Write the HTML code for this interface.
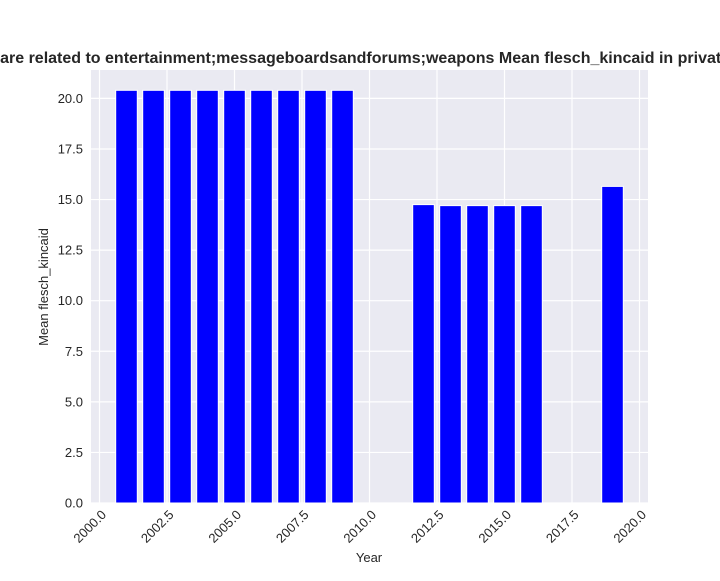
<!DOCTYPE html>
<html><head><meta charset="utf-8"><style>
body{margin:0;background:#fff;}
svg text{font-family:"Liberation Sans",Arial,sans-serif;}
</style></head><body>
<svg width="720" height="576" xmlns="http://www.w3.org/2000/svg">
<g id="plot"></g>
</svg>
<script>
const years=[2001,2002,2003,2004,2005,2006,2007,2008,2009,2012,2013,2014,2015,2016,2019];
const values=[20.4,20.4,20.4,20.4,20.4,20.4,20.4,20.4,20.4,14.75,14.7,14.7,14.7,14.7,15.65];
const xTicks=[2000,2002.5,2005,2007.5,2010,2012.5,2015,2017.5,2020];
const yTicks=[0,2.5,5,7.5,10,12.5,15,17.5,20];

const L=91,R=648,T=70,B=503;
const x=v=>99.5+(v-2000)*27;
const y=v=>B-v*20.23;
const NS="http://www.w3.org/2000/svg";
const g=document.getElementById('plot');
function mk(tag,attrs,parent){const e=document.createElementNS(NS,tag);for(const k in attrs)e.setAttribute(k,attrs[k]);(parent||g).appendChild(e);return e;}
const bg=mk('rect',{x:L,y:T,width:R-L,height:B-T,fill:'#eaeaf2'});


xTicks.forEach(t=>{
  const ln=mk('line',{x1:x(t),x2:x(t),y1:T,y2:B,stroke:'#fff','stroke-width':1.2});
  
  
  const ax=x(t)+4, ay=B+9;
  const tx=mk('text',{x:ax,y:ay+5,'font-size':13,fill:'#262626','text-anchor':'end',transform:`rotate(-45 ${ax} ${ay})`});
  tx.textContent=t.toFixed(1);
  
  
});
yTicks.forEach(t=>{
  const ln=mk('line',{x1:L,x2:R,y1:y(t),y2:y(t),stroke:'#fff','stroke-width':1.2});
  
  
  const tx=mk('text',{x:L-8,y:y(t)+4.5,'font-size':13,fill:'#262626','text-anchor':'end'});
  tx.textContent=t.toFixed(1);
  
  
});
years.forEach((yr,i)=>{
  const w=21.6;
  const r=mk('rect',{x:x(yr)-w/2,y:y(values[i]),width:w,height:B-y(values[i]),fill:'#0000ff',stroke:'#fff','stroke-width':1});
  
  
});
const title=mk('text',{x:311,y:63,'font-size':16,'font-weight':'bold',fill:'#262626','text-anchor':'middle'});
title.textContent='Websites that are related to entertainment;messageboardsandforums;weapons Mean flesch_kincaid in private';


const xl=mk('text',{x:369,y:562,'font-size':13,fill:'#262626','text-anchor':'middle'});
xl.textContent='Year';


const yl=mk('text',{x:48,y:287,'font-size':13,fill:'#262626','text-anchor':'middle',transform:'rotate(-90 48 287)'});
yl.textContent='Mean flesch_kincaid';


</script>
</body></html>
